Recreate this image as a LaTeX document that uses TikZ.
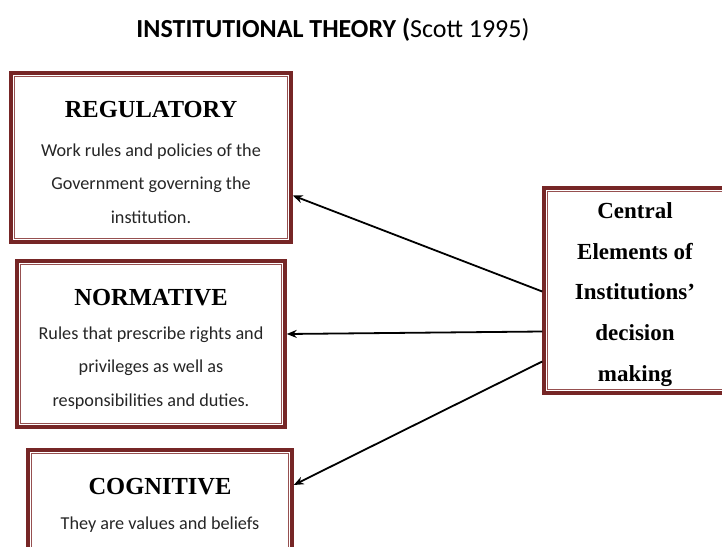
\documentclass[tikz,border=0pt]{standalone}
\usepackage{fontspec}
\setmainfont{Carlito}
\newfontfamily\headfont{Liberation Serif}
\usetikzlibrary{arrows.meta}

\definecolor{boxred}{RGB}{118,38,38}
\definecolor{boxpink}{RGB}{150,80,80}

\tikzset{
  elembox/.style={draw=boxred, line width=3.5pt, fill=white, inner sep=0pt},
  heading/.style={font=\headfont\bfseries\fontsize{24.5}{24.5}\selectfont},
  bodytext/.style={align=center, font=\fontsize{18.2}{33.5}\selectfont, text=black!85},
  centretext/.style={align=center, font=\headfont\bfseries\fontsize{23}{40.7}\selectfont},
  pointer/.style={line width=1.8pt, -{Stealth[length=10pt,width=8pt]}}
}

\begin{document}
\begin{tikzpicture}[x=1pt, y=-1pt]
  \useasboundingbox (0,0) rectangle (722,546);
  \clip (0,0) rectangle (722,546);

  % title
  \node (title) at (333,30) {\fontsize{26}{26}\selectfont\textbf{INSTITUTIONAL THEORY (}Scott 1995)};

  % the three pillars
  \node[elembox, minimum width=280pt, minimum height=169pt] (reg) at (151,157.5) {};
  \node[elembox, minimum width=268pt, minimum height=166pt] (norm) at (151,344) {};
  \node[elembox, minimum width=264pt, minimum height=110pt] (cog) at (160,505) {};
  % central box runs off the right edge
  \node[elembox, minimum width=186pt, minimum height=205pt] (central) at (637,290.5) {};

  % thin inner line of each frame
  \foreach \b in {reg,norm,cog,central}
    \draw[boxpink, line width=0.9pt] ([shift={(5pt,-5pt)}]\b.north west) rectangle ([shift={(-5pt,5pt)}]\b.south east);

  \node[heading] (regT) at (151,110) {REGULATORY};
  \node[bodytext] (regB) at (151,183.5) {Work rules and policies of the\\Government governing the\\institution.};

  \node[heading] (normT) at (151,298) {NORMATIVE};
  \node[bodytext] (normB) at (151,368) {Rules that prescribe rights and\\privileges as well as\\responsibilities and duties.};

  \node[heading] (cogT) at (160,487) {COGNITIVE};
  \node[bodytext] (cogB) at (160,525) {They are values and beliefs};

  \node[centretext] (centralT) at (635,294.5) {Central\\Elements of\\Institutions’\\decision\\making};

  % arrows out of the central box
  \draw[pointer] ([yshift=-1pt]central.west) -- ([yshift=-38pt]reg.east);
  \draw[pointer] ([yshift=-41pt]central.west) -- ([yshift=10pt]norm.east);
  \draw[pointer] ([yshift=-71pt]central.west) -- ([yshift=20pt]cog.east);
\end{tikzpicture}
\end{document}
